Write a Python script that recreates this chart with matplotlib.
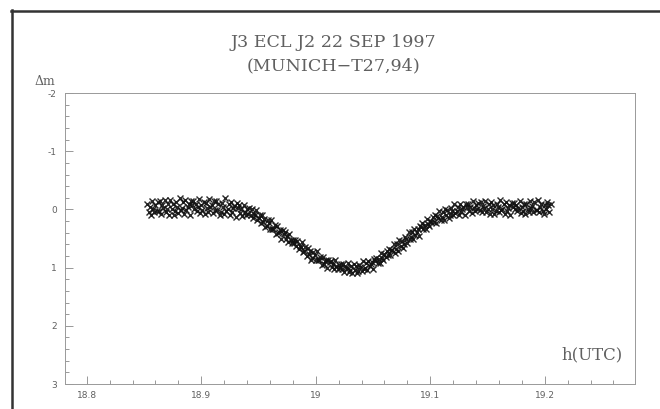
import numpy as np
import matplotlib.pyplot as plt
from matplotlib.lines import Line2D
from matplotlib.ticker import MultipleLocator

# Observation times (h UTC), one frame per 0.001 h
t_utc = [
    18.853, 18.854, 18.855, 18.856, 18.857, 18.858, 18.859, 18.860, 18.861, 18.862,
    18.863, 18.864, 18.865, 18.866, 18.867, 18.868, 18.869, 18.870, 18.871, 18.872,
    18.873, 18.874, 18.875, 18.876, 18.877, 18.878, 18.879, 18.880, 18.881, 18.882,
    18.883, 18.884, 18.885, 18.886, 18.887, 18.888, 18.889, 18.890, 18.891, 18.892,
    18.893, 18.894, 18.895, 18.896, 18.897, 18.898, 18.899, 18.900, 18.901, 18.902,
    18.903, 18.904, 18.905, 18.906, 18.907, 18.908, 18.909, 18.910, 18.911, 18.912,
    18.913, 18.914, 18.915, 18.916, 18.917, 18.918, 18.919, 18.920, 18.921, 18.922,
    18.923, 18.924, 18.925, 18.926, 18.927, 18.928, 18.929, 18.930, 18.931, 18.932,
    18.933, 18.934, 18.935, 18.936, 18.937, 18.938, 18.939, 18.940, 18.941, 18.942,
    18.943, 18.944, 18.945, 18.946, 18.947, 18.948, 18.949, 18.950, 18.951, 18.952,
    18.953, 18.954, 18.955, 18.956, 18.957, 18.958, 18.959, 18.960, 18.961, 18.962,
    18.963, 18.964, 18.965, 18.966, 18.967, 18.968, 18.969, 18.970, 18.971, 18.972,
    18.973, 18.974, 18.975, 18.976, 18.977, 18.978, 18.979, 18.980, 18.981, 18.982,
    18.983, 18.984, 18.985, 18.986, 18.987, 18.988, 18.989, 18.990, 18.991, 18.992,
    18.993, 18.994, 18.995, 18.996, 18.997, 18.998, 18.999, 19.000, 19.001, 19.002,
    19.003, 19.004, 19.005, 19.006, 19.007, 19.008, 19.009, 19.010, 19.011, 19.012,
    19.013, 19.014, 19.015, 19.016, 19.017, 19.018, 19.019, 19.020, 19.021, 19.022,
    19.023, 19.024, 19.025, 19.026, 19.027, 19.028, 19.029, 19.030, 19.031, 19.032,
    19.033, 19.034, 19.035, 19.036, 19.037, 19.038, 19.039, 19.040, 19.041, 19.042,
    19.043, 19.044, 19.045, 19.046, 19.047, 19.048, 19.049, 19.050, 19.051, 19.052,
    19.053, 19.054, 19.055, 19.056, 19.057, 19.058, 19.059, 19.060, 19.061, 19.062,
    19.063, 19.064, 19.065, 19.066, 19.067, 19.068, 19.069, 19.070, 19.071, 19.072,
    19.073, 19.074, 19.075, 19.076, 19.077, 19.078, 19.079, 19.080, 19.081, 19.082,
    19.083, 19.084, 19.085, 19.086, 19.087, 19.088, 19.089, 19.090, 19.091, 19.092,
    19.093, 19.094, 19.095, 19.096, 19.097, 19.098, 19.099, 19.100, 19.101, 19.102,
    19.103, 19.104, 19.105, 19.106, 19.107, 19.108, 19.109, 19.110, 19.111, 19.112,
    19.113, 19.114, 19.115, 19.116, 19.117, 19.118, 19.119, 19.120, 19.121, 19.122,
    19.123, 19.124, 19.125, 19.126, 19.127, 19.128, 19.129, 19.130, 19.131, 19.132,
    19.133, 19.134, 19.135, 19.136, 19.137, 19.138, 19.139, 19.140, 19.141, 19.142,
    19.143, 19.144, 19.145, 19.146, 19.147, 19.148, 19.149, 19.150, 19.151, 19.152,
    19.153, 19.154, 19.155, 19.156, 19.157, 19.158, 19.159, 19.160, 19.161, 19.162,
    19.163, 19.164, 19.165, 19.166, 19.167, 19.168, 19.169, 19.170, 19.171, 19.172,
    19.173, 19.174, 19.175, 19.176, 19.177, 19.178, 19.179, 19.180, 19.181, 19.182,
    19.183, 19.184, 19.185, 19.186, 19.187, 19.188, 19.189, 19.190, 19.191, 19.192,
    19.193, 19.194, 19.195, 19.196, 19.197, 19.198, 19.199, 19.200, 19.201, 19.202,
    19.203, 19.204, 19.205,
]

# Differential magnitude of the J3+J2 pair (mag)
delta_m = [
    -0.10, 0.04, -0.04, 0.09, -0.15, -0.01, 0.05, -0.07, 0.02, -0.12,
    0.02, -0.14, 0.07, -0.07, -0.03, -0.17, 0.05, -0.01, -0.10, 0.09,
    -0.16, 0.00, -0.10, 0.09, 0.03, -0.12, -0.05, 0.06, -0.20, 0.01,
    -0.03, -0.12, 0.07, -0.16, 0.01, -0.05, -0.10, 0.09, -0.15, -0.07,
    -0.15, -0.01, -0.10, 0.02, -0.04, -0.18, 0.06, -0.07, 0.01, -0.13,
    0.08, -0.11, -0.02, 0.04, -0.18, -0.04, -0.08, 0.06, -0.15, 0.01,
    -0.15, 0.01, -0.09, 0.10, 0.04, -0.11, -0.04, 0.07, -0.19, 0.02,
    0.00, -0.09, 0.10, -0.13, 0.04, -0.02, -0.06, 0.13, -0.11, -0.03,
    -0.07, 0.06, 0.00, 0.11, -0.08, 0.04, 0.10, 0.00, 0.08, -0.03,
    0.09, 0.00, 0.14, 0.07, 0.10, 0.01, 0.18, 0.15, 0.09, 0.24,
    0.10, 0.21, 0.16, 0.31, 0.28, 0.18, 0.24, 0.33, 0.18, 0.33,
    0.33, 0.27, 0.42, 0.28, 0.41, 0.38, 0.36, 0.51, 0.36, 0.42,
    0.39, 0.50, 0.46, 0.56, 0.42, 0.53, 0.58, 0.52, 0.58, 0.52,
    0.63, 0.54, 0.68, 0.62, 0.65, 0.56, 0.73, 0.71, 0.65, 0.80,
    0.66, 0.77, 0.72, 0.86, 0.83, 0.73, 0.79, 0.87, 0.72, 0.87,
    0.87, 0.81, 0.95, 0.81, 0.93, 0.89, 0.87, 1.01, 0.86, 0.91,
    0.88, 0.99, 0.93, 1.03, 0.87, 0.98, 1.02, 0.95, 1.00, 0.93,
    1.03, 0.93, 1.07, 0.99, 1.01, 0.92, 1.08, 1.04, 0.97, 1.10,
    0.94, 1.04, 0.98, 1.10, 1.06, 0.95, 0.99, 1.06, 0.89, 1.02,
    1.00, 0.92, 1.04, 0.88, 0.98, 0.93, 0.90, 1.02, 0.85, 0.88,
    0.83, 0.92, 0.85, 0.92, 0.75, 0.84, 0.87, 0.77, 0.81, 0.71,
    0.79, 0.68, 0.79, 0.70, 0.70, 0.59, 0.74, 0.68, 0.60, 0.71,
    0.53, 0.62, 0.54, 0.66, 0.60, 0.48, 0.51, 0.57, 0.39, 0.50,
    0.48, 0.39, 0.51, 0.34, 0.44, 0.38, 0.34, 0.45, 0.28, 0.30,
    0.24, 0.33, 0.26, 0.33, 0.16, 0.25, 0.28, 0.19, 0.22, 0.13,
    0.22, 0.09, 0.23, 0.12, 0.14, 0.02, 0.18, 0.13, 0.05, 0.18,
    -0.01, 0.10, 0.01, 0.15, 0.10, -0.02, 0.02, 0.10, -0.10, 0.06,
    0.03, -0.05, 0.10, -0.09, 0.04, -0.01, -0.05, 0.10, -0.10, -0.04,
    -0.10, 0.02, -0.05, 0.06, -0.14, -0.02, 0.03, -0.07, 0.00, -0.11,
    0.01, -0.12, 0.05, -0.06, -0.03, -0.15, 0.04, -0.01, -0.09, 0.07,
    -0.13, 0.00, -0.08, 0.08, 0.03, -0.10, -0.04, 0.05, -0.16, 0.01,
    -0.01, -0.09, 0.07, -0.12, 0.02, -0.03, -0.07, 0.09, -0.11, -0.05,
    -0.11, 0.00, -0.07, 0.03, -0.02, -0.14, 0.06, -0.05, 0.02, -0.10,
    0.07, -0.09, -0.01, 0.04, -0.15, -0.03, -0.06, 0.05, -0.12, 0.01,
    0.01, -0.16, 0.05, -0.04, -0.10, 0.03, 0.08, -0.08, 0.00, -0.13,
    -0.07, 0.04, -0.10,
]

title_lines = ["J3 ECL J2 22 SEP 1997", "(MUNICH\u2212T27,94)"]

plt.rcParams['axes.unicode_minus'] = False
serif = 'DejaVu Serif'
grey = '#606060'

fig = plt.figure(figsize=(6.6, 4.09), dpi=100)
ax = fig.add_axes([0.0985, 0.061, 0.864, 0.7115])

ax.plot(t_utc, delta_m, linestyle='none', marker='x', markersize=4.5,
        markeredgewidth=1.0, color='#111111', alpha=0.9)

ax.set_xlim(18.781, 19.279)
ax.set_ylim(3, -2)

ax.xaxis.set_major_locator(MultipleLocator(0.1))
ax.xaxis.set_minor_locator(MultipleLocator(0.02))
ax.yaxis.set_major_locator(MultipleLocator(1))
ax.yaxis.set_minor_locator(MultipleLocator(0.2))
ax.xaxis.set_major_formatter(plt.FuncFormatter(lambda v, p: f'{v:.1f}'.replace('19.0', '19')))

ax.tick_params(which='both', direction='in', colors='#888888', labelcolor=grey,
               labelsize=6.5, width=0.6, top=False, right=False)
ax.tick_params(which='major', length=6)
ax.tick_params(which='minor', length=3)
ax.tick_params(axis='x', pad=5)
ax.tick_params(axis='y', pad=6)
for s in ax.spines.values():
    s.set_color('#999999')
    s.set_linewidth(0.7)

fig.text(0.505, 0.895, title_lines[0], ha='center', va='center',
         family=serif, fontsize=12.6, color=grey)
fig.text(0.505, 0.838, title_lines[1], ha='center', va='center',
         family=serif, fontsize=12.6, color=grey)
fig.text(0.068, 0.80, '\u0394m', ha='center', va='center',
         family=serif, fontsize=9, color=grey)
ax.text(0.925, 0.10, 'h(UTC)', transform=ax.transAxes, ha='center', va='center',
        family=serif, fontsize=12, color=grey)

# frame around the page
fig.add_artist(Line2D([0.017, 1.0], [0.974, 0.974], color='#333333', lw=1.8))
fig.add_artist(Line2D([0.018, 0.018], [0.0, 0.975], color='#333333', lw=1.8))

fig.savefig('out.png', dpi=100)
